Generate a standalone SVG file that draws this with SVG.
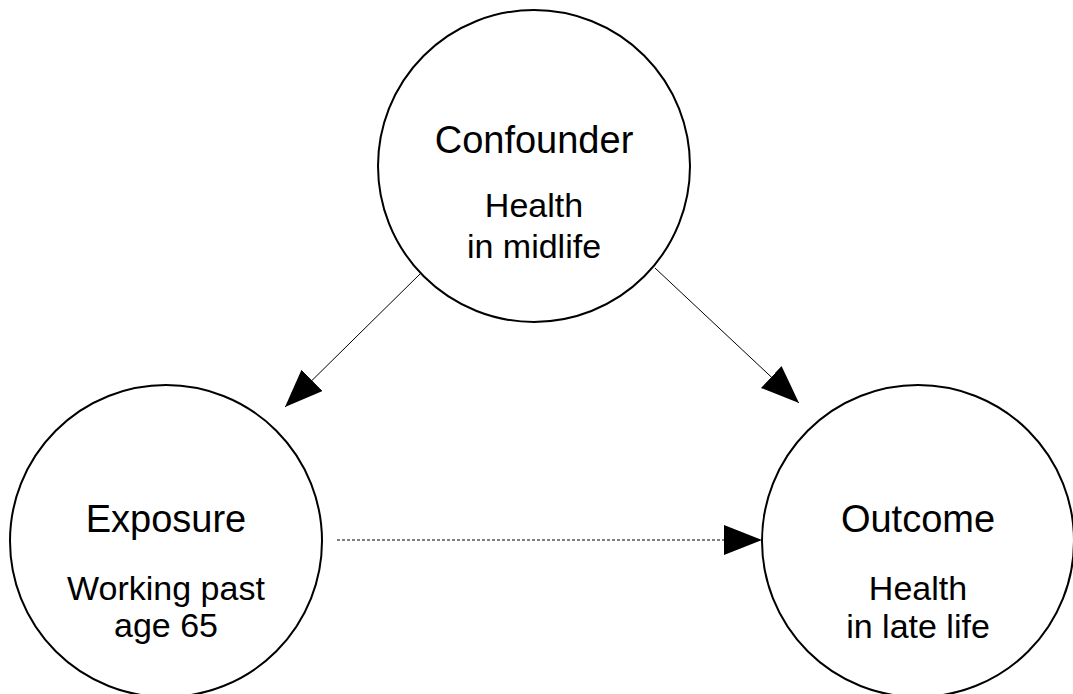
<svg xmlns="http://www.w3.org/2000/svg" width="1073" height="694" viewBox="0 0 1073 694">
<defs>
<style>
.node{fill:#fff;stroke:#000;stroke-width:2}
.t1{font-family:"Liberation Sans",Arial,sans-serif;font-size:38px;text-anchor:middle;fill:#000}
.t2{font-family:"Liberation Sans",Arial,sans-serif;font-size:34px;text-anchor:middle;fill:#000}
.edge{stroke:#000;stroke-width:1;fill:none}
.dash{stroke-dasharray:3,2}
</style>
<marker id="ah" markerUnits="userSpaceOnUse" markerWidth="40" markerHeight="32" refX="38" refY="15" orient="auto">
<path d="M0,0 L38,15 L0,30 z" fill="#000"/>
</marker>
</defs>
<rect width="1073" height="694" fill="#fff"/>
<g id="confounder">
<circle class="node" cx="534" cy="166" r="156"/>
<text class="t1" x="534" y="153">Confounder</text>
<text class="t2" x="534" y="217">Health</text>
<text class="t2" x="534" y="258">in midlife</text>
</g>
<g id="exposure">
<circle class="node" cx="166" cy="541" r="156"/>
<text class="t1" x="166" y="532">Exposure</text>
<text class="t2" x="166" y="600">Working past</text>
<text class="t2" x="166" y="637">age 65</text>
</g>
<g id="outcome">
<circle class="node" cx="918" cy="541" r="156"/>
<text class="t1" x="918" y="532">Outcome</text>
<text class="t2" x="918" y="600">Health</text>
<text class="t2" x="918" y="638">in late life</text>
</g>
<g id="connectors">
<line class="edge" x1="420" y1="274" x2="285" y2="407" marker-end="url(#ah)"/>
<line class="edge" x1="655" y1="268" x2="799" y2="403" marker-end="url(#ah)"/>
<line class="edge dash" x1="337" y1="540" x2="762" y2="540" marker-end="url(#ah)"/>
</g>
</svg>
